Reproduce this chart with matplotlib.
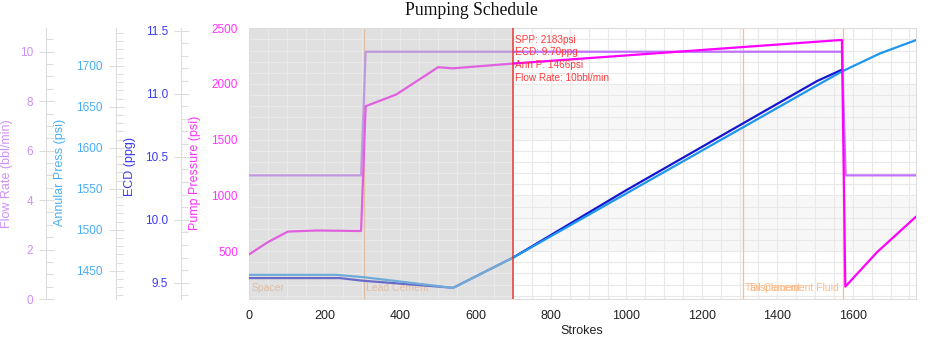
import numpy as np
import matplotlib
matplotlib.use('Agg')
import matplotlib.pyplot as plt
from matplotlib.ticker import MultipleLocator, FormatStrFormatter
from matplotlib.colors import to_rgb

plt.rcParams['font.family'] = ['Liberation Sans', 'DejaVu Sans']

# --- data ---
pump_x = [0, 50, 103, 180, 297, 309, 390, 501, 540, 700, 1571, 1580, 1664, 1766]
pump_y = [470, 580, 675, 685, 680, 1800, 1905, 2150, 2140, 2183, 2395, 181, 490, 805]

flow_x = [0, 297, 309, 700, 1571, 1581, 1766]
flow_y = [5, 5, 10, 10, 10, 5, 5]

ann_x = [0, 231, 306, 541, 700, 1505, 1571, 1672, 1766]
ann_y = [1445, 1445, 1442, 1429, 1466, 1676, 1693, 1715, 1731]

ecd_x = [0, 240, 302, 541, 700, 1000, 1505, 1571]
ecd_y = [9.537, 9.537, 9.516, 9.46, 9.70, 10.235, 11.10, 11.19]

stage_names = ['Spacer', 'Lead Cement', 'Tail Cement', 'Displacement Fluid']
stage_starts = [0, 304.5, 1310, 1575]

cursor_stroke = 700
cursor_spp = 2183
cursor_ecd = 9.70
cursor_ann = 1466
cursor_flow = 10

pump_bands = [(500, 1000), (1500, 2000)]

# colours
c_pump, c_flow, c_ann, c_ecd = '#ff00ff', '#c070ff', '#1e96f0', '#1414d2'
t_pump, t_flow, t_ann, t_ecd = '#ff33ff', '#cf8ff5', '#4aaef5', '#3a3af0'
c_stage = '#ffbb88'
grid_c = '#e9e9e9'
frame_c = '#dddddd'


def pale(c):
    # colour as seen through the grey "done" overlay
    return tuple(0.5 * v + 0.5 * 192 / 255 for v in to_rgb(c))


def split_plot(a, xs, ys, color, lw=1.6):
    xs = np.asarray(xs, float)
    ys = np.asarray(ys, float)
    left = xs <= cursor_stroke
    right = xs >= cursor_stroke
    a.plot(xs[left], ys[left], color=pale(color), lw=lw)
    a.plot(xs[right], ys[right], color=color, lw=lw)


W, H = 940, 339
fig = plt.figure(figsize=(W / 100, H / 100), dpi=100)
x0, x1, y0, y1 = 249, 915.5, 28, 299
ax = fig.add_axes([x0 / W, 1 - y1 / H, (x1 - x0) / W, (y1 - y0) / H])
ax.set_xlim(0, 1766)
ax.set_ylim(70, 2502)

for lo, hi in pump_bands:
    ax.axhspan(lo, hi, color='#f7f7f7', lw=0, zorder=0.1)
ax.axvspan(0, cursor_stroke, color='#e0e0e0', lw=0, zorder=0.2)

ax.xaxis.set_major_locator(MultipleLocator(200))
ax.xaxis.set_minor_locator(MultipleLocator(50))
ax.yaxis.set_major_locator(MultipleLocator(500))
ax.yaxis.set_minor_locator(MultipleLocator(100))
ax.set_axisbelow(True)
ax.grid(True, which='both', color=grid_c, lw=0.8)
ax.tick_params(axis='x', which='both', length=0, pad=8, labelsize=9, labelcolor='#222222')
ax.tick_params(axis='y', which='both', length=0, pad=8, labelsize=8.5, labelcolor=t_pump)
for s in ax.spines.values():
    s.set_color(frame_c)
    s.set_linewidth(0.8)

# stage markers
for name, st in zip(stage_names, stage_starts):
    col = pale(c_stage) if st < cursor_stroke else c_stage
    if st > 0:
        ax.axvline(st, color=col, lw=0.9, zorder=1)
    if name == 'Displacement Fluid':
        ax.annotate(name, xy=(st, 0.04), xycoords=('data', 'axes fraction'),
                    xytext=(-3, 0), textcoords='offset points',
                    ha='right', va='center', fontsize=7.5, color=col)
    else:
        ax.annotate(name, xy=(st, 0.04), xycoords=('data', 'axes fraction'),
                    xytext=(1.5, 0), textcoords='offset points',
                    ha='left', va='center', fontsize=7.5, color=col)


def side_axis(pos, lims, major, minor, tcol, fmt=None):
    t = ax.twinx()
    t.set_ylim(*lims)
    t.yaxis.set_ticks_position('left')
    t.yaxis.set_label_position('left')
    for s in ['right', 'top', 'bottom']:
        t.spines[s].set_visible(False)
    t.spines['left'].set_visible(True)
    t.spines['left'].set_position(('axes', pos))
    t.spines['left'].set_color(frame_c)
    t.spines['left'].set_linewidth(0.8)
    t.yaxis.set_major_locator(MultipleLocator(major))
    t.yaxis.set_minor_locator(MultipleLocator(minor))
    if fmt:
        t.yaxis.set_major_formatter(FormatStrFormatter(fmt))
    t.tick_params(axis='y', which='major', direction='inout', length=10.8, width=0.8,
                  color=frame_c, pad=4, labelsize=8.5, labelcolor=tcol,
                  left=True, labelleft=True, right=False, labelright=False)
    t.tick_params(axis='y', which='minor', direction='in', length=5, width=0.8,
                  color=frame_c, left=True, right=False)
    return t


ax_flow = side_axis(-0.3046, (0, 10.96), 2, 0.5, t_flow)
ax_ecd = side_axis(-0.102, (9.371, 11.521), 0.5, 0.1, t_ecd, '%.1f')
ax_ann = side_axis(-0.2, (1415.5, 1746), 50, 10, t_ann)

split_plot(ax_flow, flow_x, flow_y, c_flow)
split_plot(ax_ecd, ecd_x, ecd_y, c_ecd)
split_plot(ax_ann, ann_x, ann_y, c_ann)

# pump pressure on top of everything, same scale as host
axp = fig.add_axes(ax.get_position(), sharex=ax, sharey=ax)
axp.set_axis_off()
axp.patch.set_visible(False)
split_plot(axp, pump_x, pump_y, c_pump)

axp.axvline(cursor_stroke, color='#e53935', lw=1.1, zorder=5)
cursor_lines = [f'SPP: {cursor_spp}psi', f'ECD: {cursor_ecd:.2f}ppg',
                f'Ann P: {cursor_ann}psi', f'Flow Rate: {cursor_flow}bbl/min']
for i, txt in enumerate(cursor_lines):
    axp.annotate(txt, xy=(cursor_stroke, 0.956 - i * 0.0464),
                 xycoords=('data', 'axes fraction'), xytext=(1.2, 0),
                 textcoords='offset points', ha='left', va='center',
                 fontsize=7.2, color='#ff3b3b', zorder=6)

# axis titles
lab_kw = dict(rotation=90, ha='center', va='center', fontsize=9)
fig.text(7.5 / W, 1 - 174 / H, 'Flow Rate (bbl/min)', color=t_flow, **lab_kw)
fig.text(60 / W, 1 - 172 / H, 'Annular Press (psi)', color=t_ann, **lab_kw)
fig.text(129.5 / W, 1 - 167 / H, 'ECD (ppg)', color=t_ecd, **lab_kw)
fig.text(195 / W, 1 - 173 / H, 'Pump Pressure (psi)', color=t_pump, **lab_kw)
fig.text(582 / W, 1 - 331 / H, 'Strokes', ha='center', va='center', fontsize=9,
         color='#222222')
fig.text(471.7 / W, 1 - 10.5 / H, 'Pumping Schedule', ha='center', va='center',
         fontsize=12.7, family=['Liberation Serif', 'DejaVu Serif'], color='#111111')

fig.savefig('out.png', dpi=100)
